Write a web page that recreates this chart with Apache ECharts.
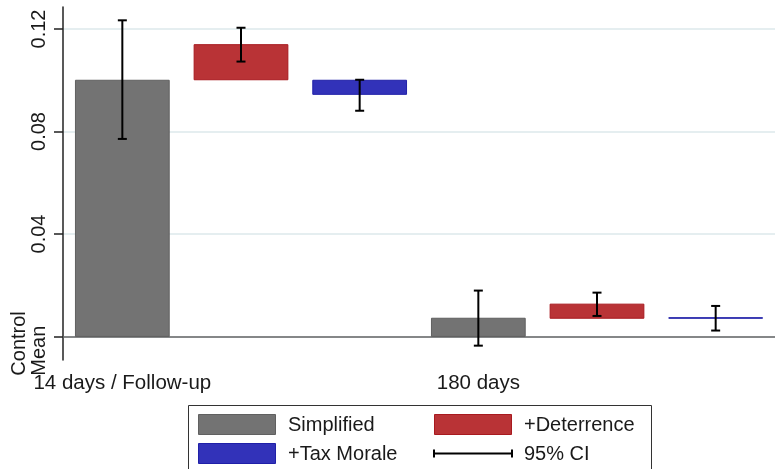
<!DOCTYPE html>
<html><head><meta charset="utf-8">
<script src="https://cdn.jsdelivr.net/npm/echarts@6/dist/echarts.min.js"></script>
<style>html,body{margin:0;padding:0;background:#fff}#c{width:775px;height:469px}</style>
</head><body><div id="c"></div>
<script>
// ---- data ----
const groups = ['14 days / Follow-up', '180 days'];
const treatments = ['Simplified', '+Deterrence', '+Tax Morale'];
const simplifiedLow = [0, 0];
const simplifiedHigh = [0.1000, 0.0071];
const deterrenceLow = [0.1002, 0.0071];
const deterrenceHigh = [0.1139, 0.0126];
const taxMoraleLow = [0.0945, 0.0071];
const taxMoraleHigh = [0.1000, 0.0073];
const simplifiedCI = [[0.0771, 0.1234], [-0.0036, 0.0179]];
const deterrenceCI = [[0.1073, 0.1205], [0.0080, 0.0171]];
const taxMoraleCI = [[0.0881, 0.1002], [0.0023, 0.0119]];
const yTickValues = [0, 0.04, 0.08, 0.12];
const yTickLabels = ['Control\nMean', '0.04', '0.08', '0.12'];
const ciLabel = '95% CI';

// ---- build ----
const slots = [];
groups.forEach(g => treatments.forEach((t, j) => slots.push(j === 0 ? g : g + '|' + t)));
const nT = treatments.length;
const colors = {fill: ['#737373', '#b93336', '#3232b9'], stroke: ['#606060', '#a81a1f', '#2020a8']};
const lows = [simplifiedLow, deterrenceLow, taxMoraleLow];
const highs = [simplifiedHigh, deterrenceHigh, taxMoraleHigh];
const cis = [simplifiedCI, deterrenceCI, taxMoraleCI];

function makeBarRender(k) {
  return function (params, api) {
    const x = api.value(0);
    const p1 = api.coord([x, api.value(1)]);
    const p2 = api.coord([x, api.value(2)]);
    const w = api.size([1, 0])[0] * 0.79;
    const y = Math.min(p1[1], p2[1]);
    const h = Math.max(Math.abs(p1[1] - p2[1]), 0.3);
    return {type: 'rect', shape: {x: p1[0] - w / 2, y: y, width: w, height: h},
      style: {fill: colors.fill[k], stroke: colors.stroke[k], lineWidth: 1}};
  };
}
function ciRender(params, api) {
  const x = api.value(0);
  const a = api.coord([x, api.value(1)]);
  const b = api.coord([x, api.value(2)]);
  const c = 4.5;
  const st = {stroke: '#000', lineWidth: 2};
  return {type: 'group', children: [
    {type: 'line', shape: {x1: a[0], y1: a[1], x2: b[0], y2: b[1]}, style: st},
    {type: 'line', shape: {x1: a[0] - c, y1: a[1], x2: a[0] + c, y2: a[1]}, style: st},
    {type: 'line', shape: {x1: b[0] - c, y1: b[1], x2: b[0] + c, y2: b[1]}, style: st}
  ]};
}

const series = [{
  type: 'line', data: [], silent: true, z: 0,
  markLine: {silent: true, z: 0, symbol: 'none', label: {show: false},
    lineStyle: {color: '#e5eef0', width: 2, type: 'solid'},
    data: yTickValues.map(v => ({yAxis: v}))}
}];
treatments.forEach((t, k) => {
  series.push({
    name: t, type: 'custom', z: 3, renderItem: makeBarRender(k),
    encode: {x: 0, y: [1, 2]},
    data: groups.map((g, i) => [i * nT + k, lows[k][i], highs[k][i]])
  });
});
const ciData = [];
groups.forEach((g, i) => treatments.forEach((t, k) => ciData.push([i * nT + k, cis[k][i][0], cis[k][i][1]])));
series.push({name: ciLabel, type: 'custom', z: 4, renderItem: ciRender, encode: {x: 0, y: [1, 2]}, data: ciData});

const font = 'Liberation Sans, Arial, sans-serif';
const lx = 188, ly = 405;
const legendItems = [
  {sw: 'rect', k: 0, x: 198, y: 414, label: treatments[0]},
  {sw: 'rect', k: 1, x: 434, y: 414, label: treatments[1]},
  {sw: 'rect', k: 2, x: 198, y: 443, label: treatments[2]},
  {sw: 'ci', x: 434, y: 443, label: ciLabel}
];
const graphic = [{type: 'rect', shape: {x: lx + 0.5, y: ly + 0.5, width: 463, height: 80},
  style: {fill: '#fff', stroke: '#333', lineWidth: 1}}];
legendItems.forEach(it => {
  if (it.sw === 'rect') {
    graphic.push({type: 'rect', shape: {x: it.x + 0.5, y: it.y + 0.5, width: 77, height: 20},
      style: {fill: colors.fill[it.k], stroke: colors.stroke[it.k], lineWidth: 1}});
  } else {
    const yy = it.y + 10.5;
    graphic.push({type: 'line', shape: {x1: it.x, y1: yy, x2: it.x + 78, y2: yy}, style: {stroke: '#000', lineWidth: 2}});
    graphic.push({type: 'line', shape: {x1: it.x, y1: yy - 4, x2: it.x, y2: yy + 4}, style: {stroke: '#000', lineWidth: 2}});
    graphic.push({type: 'line', shape: {x1: it.x + 78, y1: yy - 4, x2: it.x + 78, y2: yy + 4}, style: {stroke: '#000', lineWidth: 2}});
  }
  graphic.push({type: 'text', x: it.x + 90, y: it.y + 11,
    style: {text: it.label, font: '20px ' + font, fill: '#1a1a1a', verticalAlign: 'middle', align: 'left'}});
});

const chart = echarts.init(document.getElementById('c'), null, {renderer: 'canvas'});
chart.setOption({
  animation: false,
  backgroundColor: '#fff',
  grid: {left: 63, right: 0, top: 7, bottom: 109, containLabel: false},
  xAxis: {
    type: 'category', data: slots, boundaryGap: true,
    axisLine: {lineStyle: {color: '#666', width: 1.5}},
    axisTick: {alignWithLabel: true, length: 7, interval: i => i % nT === 0, lineStyle: {color: '#666', width: 1.5}},
    axisLabel: {interval: i => i % nT === 0, formatter: v => v.split('|')[0], color: '#1a1a1a',
      fontSize: 20.5, fontFamily: font, margin: 13}
  },
  yAxis: {
    type: 'value', min: -0.0092, max: 0.1286,
    axisLine: {show: true, lineStyle: {color: '#222', width: 1.5}},
    axisTick: {show: true, length: 9, customValues: yTickValues, lineStyle: {color: '#222', width: 1.5}},
    axisLabel: {customValues: yTickValues, rotate: 90, margin: 14, color: '#1a1a1a', fontSize: 20, fontFamily: font,
      lineHeight: 20,
      formatter: v => {
        const i = yTickValues.findIndex(t => Math.abs(t - v) < 1e-9);
        if (i < 0) return '';
        const s = yTickLabels[i];
        return s.indexOf('\n') >= 0 ? s.split('\n').map(l => '{cm|' + l + '}').join('\n') : s;
      },
      rich: {cm: {align: 'left', fontSize: 20, fontFamily: font, color: '#1a1a1a', lineHeight: 20, padding: [0, 14, 0, 0]}}
    },
    splitLine: {show: false}
  },
  series: series,
  graphic: graphic
});
</script></body></html>
